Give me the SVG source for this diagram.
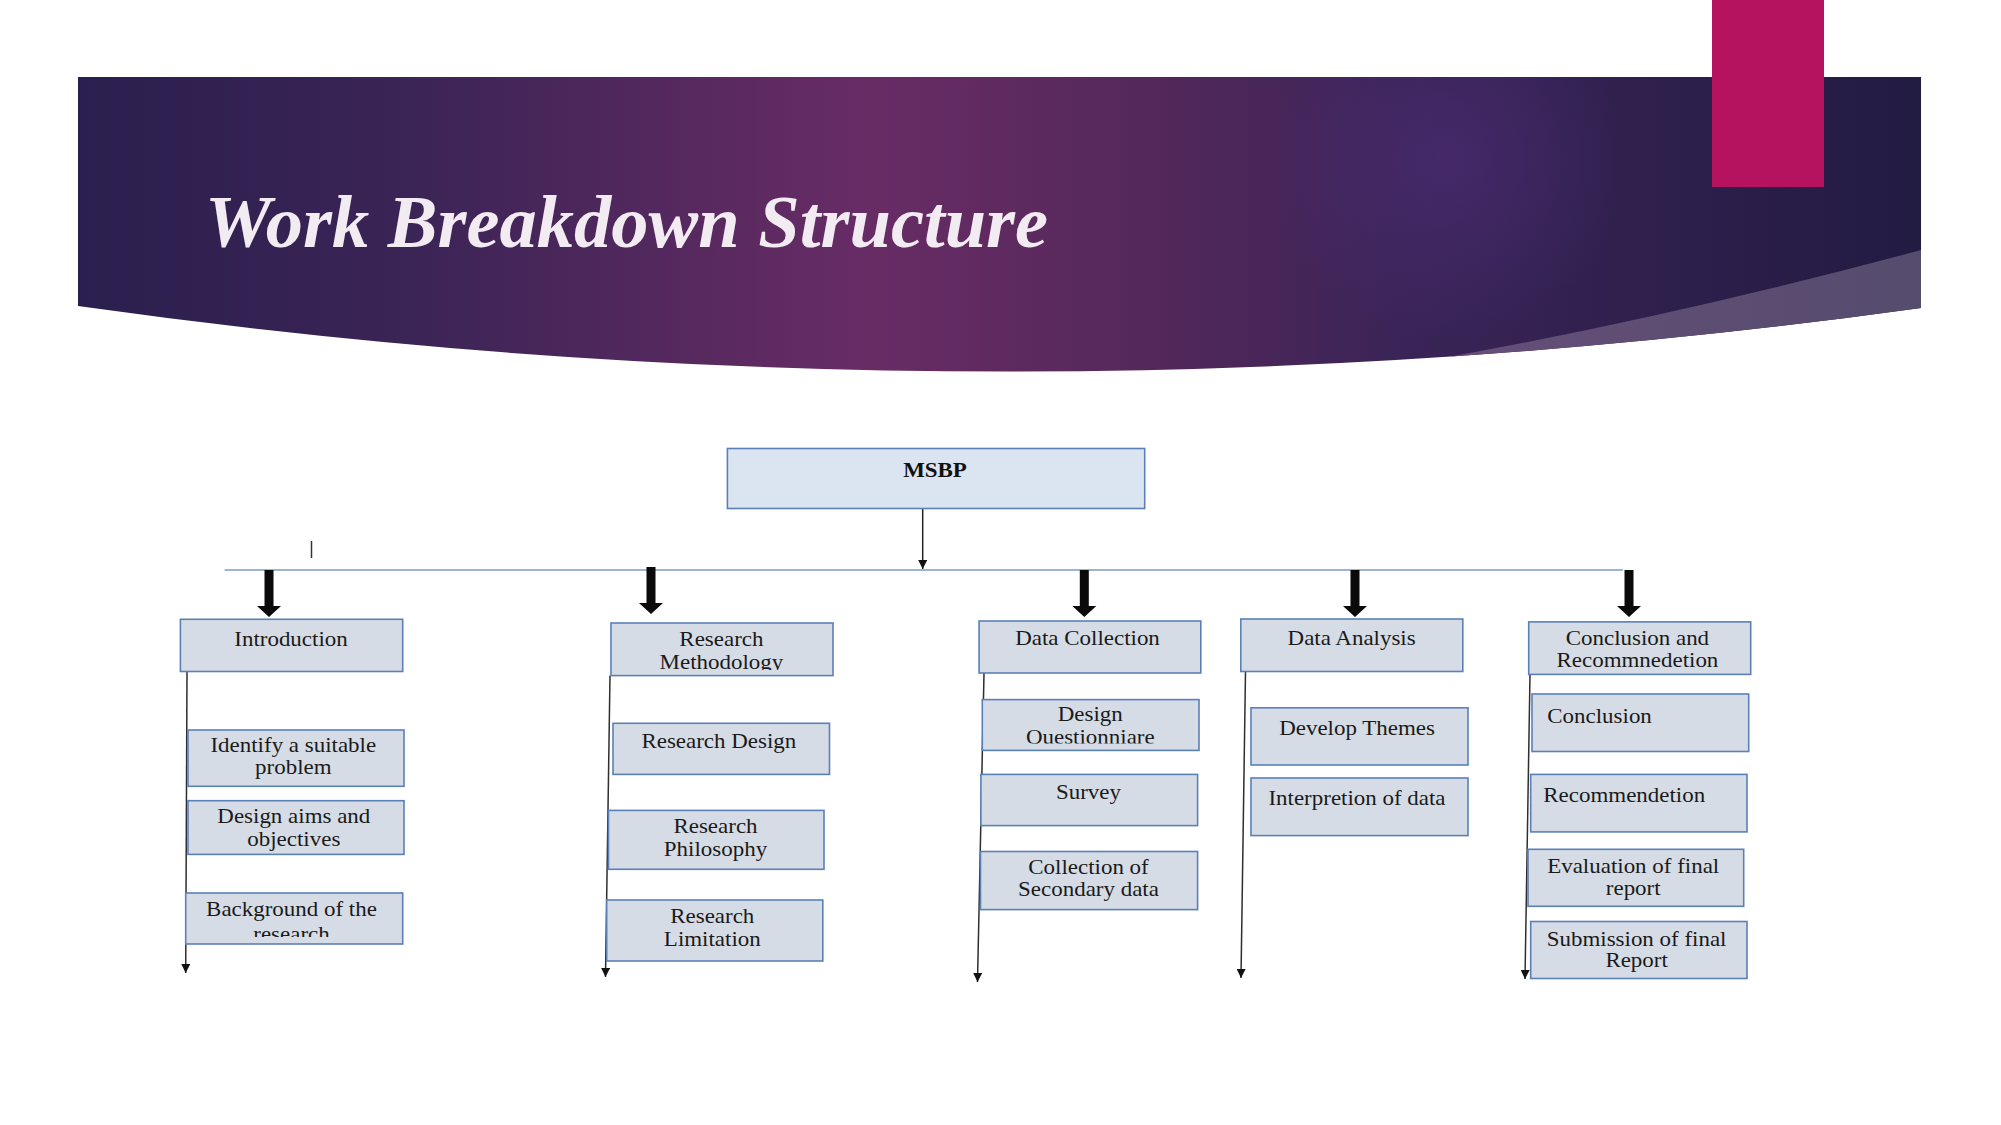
<svg xmlns="http://www.w3.org/2000/svg" width="2001" height="1125" viewBox="0 0 2001 1125">
<style>
.box{fill:#d6dce5;stroke:#5a80b8;stroke-width:1.6}
.top{fill:#dbe5f1;stroke:#5a80b8;stroke-width:1.6}
.t{font-family:"Liberation Serif","Times New Roman",serif;font-size:20.5px;fill:#1a1a1a;text-anchor:middle}
.ts{font-family:"Liberation Serif","Times New Roman",serif;font-size:20.5px;fill:#1a1a1a;text-anchor:start}
.tb{font-family:"Liberation Serif","Times New Roman",serif;font-size:20.5px;font-weight:bold;fill:#111;text-anchor:middle}
.vl{stroke:#2e2e2e;stroke-width:1.5;fill:none;marker-end:url(#ahd)}
.hl{stroke:#7b9dc8;stroke-width:1.6;fill:none}
.big{fill:#0a0a0a}
</style>
<defs>
<linearGradient id="bg" x1="78" y1="0" x2="1921" y2="0" gradientUnits="userSpaceOnUse">
<stop offset="0" stop-color="#2a1f4e"/>
<stop offset="0.18" stop-color="#3b2456"/>
<stop offset="0.43" stop-color="#682c65"/>
<stop offset="0.58" stop-color="#54285b"/>
<stop offset="0.72" stop-color="#3a2457"/>
<stop offset="1" stop-color="#221b42"/>
</linearGradient>
<radialGradient id="glow" cx="1446" cy="160" r="180" gradientUnits="userSpaceOnUse">
<stop offset="0" stop-color="#4a2b72" stop-opacity="0.7"/>
<stop offset="1" stop-color="#4a2b72" stop-opacity="0"/>
</radialGradient>
<linearGradient id="wedge" x1="1450" y1="0" x2="1921" y2="0" gradientUnits="userSpaceOnUse">
<stop offset="0" stop-color="#664e78"/>
<stop offset="1" stop-color="#554c6e"/>
</linearGradient>
<marker id="ahd" markerWidth="10" markerHeight="9" refX="9" refY="4.5" orient="auto" markerUnits="userSpaceOnUse" viewBox="0 0 10 9">
<path d="M0,0 L9,4.5 L0,9 Z" fill="#111"/>
</marker>
<clipPath id="cRM"><rect x="611" y="623" width="222" height="47"/></clipPath>
<clipPath id="cBG"><rect x="186" y="893" width="217" height="44"/></clipPath>
<clipPath id="cDQ"><rect x="982" y="700" width="217" height="43.5"/></clipPath>
</defs>

<rect x="0" y="0" width="2001" height="1125" fill="#ffffff"/>

<g id="banner">
<path d="M78,77 H1921 V308 Q999,436 78,306 Z" fill="url(#bg)"/>
<path d="M78,77 H1921 V308 Q999,436 78,306 Z" fill="url(#glow)"/>
<path d="M1450.9,356.5 Q1680,315 1921,250 V308 Q1685.8,340.7 1450.9,356.5 Z" fill="url(#wedge)"/>
<rect x="1712" y="0" width="112" height="187" fill="#b5135f"/>
<text x="205" y="247" font-family="'Liberation Serif','Times New Roman',serif" font-size="74.5" font-weight="bold" font-style="italic" fill="#f2ecf2">Work Breakdown Structure</text>
</g>

<g id="connectors">
<line x1="224.6" y1="570" x2="1623" y2="570" class="hl"/>
<line x1="922.7" y1="508.5" x2="922.7" y2="569" stroke="#222" stroke-width="1.5" marker-end="url(#ahd)"/>
<line x1="311.5" y1="541" x2="311.5" y2="558" stroke="#333" stroke-width="1.5"/>
<polygon class="big" points="264.5,570 273.5,570 273.5,606 281,606 269,617 257,606 264.5,606"/>
<polygon class="big" points="646.5,567 655.5,567 655.5,603 663,603 651,614 639,603 646.5,603"/>
<polygon class="big" points="1079.8,570 1088.8,570 1088.8,606 1096.3,606 1084.3,617 1072.3,606 1079.8,606"/>
<polygon class="big" points="1350.5,570 1359.5,570 1359.5,606 1367,606 1355,617 1343,606 1350.5,606"/>
<polygon class="big" points="1624.5,570 1633.5,570 1633.5,606 1641,606 1629,617 1617,606 1624.5,606"/>
<line class="vl" x1="187" y1="672" x2="185.7" y2="973"/>
<line class="vl" x1="610" y1="675.5" x2="605.5" y2="977"/>
<line class="vl" x1="984" y1="673" x2="977.5" y2="982"/>
<line class="vl" x1="1245.5" y1="671.5" x2="1241" y2="978"/>
<line class="vl" x1="1530" y1="674.5" x2="1525" y2="979"/>
</g>

<g id="msbp">
<rect class="top" x="727.4" y="448.5" width="417.3" height="60"/>
<text class="tb" transform="translate(935,477) scale(1.12,1)">MSBP</text>
</g>

<g id="introduction">
<rect class="box" x="180.4" y="619.3" width="222.3" height="52.2"/>
<text class="t" transform="translate(291,645.5) scale(1.12,1)">Introduction</text>
</g>
<g id="identify-problem">
<rect class="box" x="188" y="730" width="216" height="56.3"/>
<text class="t" transform="translate(293.3,752) scale(1.12,1)">Identify a suitable</text>
<text class="t" transform="translate(293.3,774.4) scale(1.12,1)">problem</text>
</g>
<g id="design-aims">
<rect class="box" x="188" y="800.7" width="216" height="53.7"/>
<text class="t" transform="translate(293.8,823) scale(1.12,1)">Design aims and</text>
<text class="t" transform="translate(293.8,845.6) scale(1.12,1)">objectives</text>
</g>
<g id="background">
<rect class="box" x="185.7" y="893" width="217" height="51"/>
<g clip-path="url(#cBG)">
<text class="t" transform="translate(291.5,916) scale(1.12,1)">Background of the</text>
<text class="t" transform="translate(291.5,941) scale(1.12,1)">research</text>
</g>
</g>

<g id="research-methodology">
<rect class="box" x="611" y="623" width="222" height="52.6"/>
<g clip-path="url(#cRM)">
<text class="t" transform="translate(721.4,646) scale(1.12,1)">Research</text>
<text class="t" transform="translate(721.4,668.5) scale(1.12,1)">Methodology</text>
</g>
</g>
<g id="research-design">
<rect class="box" x="613" y="723.3" width="216.5" height="51.1"/>
<text class="t" transform="translate(718.8,748) scale(1.12,1)">Research Design</text>
</g>
<g id="research-philosophy">
<rect class="box" x="608.5" y="810.4" width="215.5" height="58.9"/>
<text class="t" transform="translate(715.5,833) scale(1.12,1)">Research</text>
<text class="t" transform="translate(715.5,856) scale(1.12,1)">Philosophy</text>
</g>
<g id="research-limitation">
<rect class="box" x="606.7" y="900" width="216.1" height="61"/>
<text class="t" transform="translate(712.3,923.3) scale(1.12,1)">Research</text>
<text class="t" transform="translate(712.3,945.6) scale(1.12,1)">Limitation</text>
</g>

<g id="data-collection">
<rect class="box" x="979.1" y="621" width="221.7" height="52"/>
<text class="t" transform="translate(1087.5,645) scale(1.12,1)">Data Collection</text>
</g>
<g id="design-questionnaire">
<rect class="box" x="982.3" y="699.6" width="216.7" height="50.8"/>
<g clip-path="url(#cDQ)">
<text class="t" transform="translate(1090.3,721) scale(1.12,1)">Design</text>
<text class="t" transform="translate(1090.3,743.5) scale(1.12,1)">Questionniare</text>
</g>
</g>
<g id="survey">
<rect class="box" x="980.9" y="774.4" width="216.7" height="51.2"/>
<text class="t" transform="translate(1088.5,798.5) scale(1.12,1)">Survey</text>
</g>
<g id="secondary-data">
<rect class="box" x="980.5" y="851.5" width="217.1" height="58.1"/>
<text class="t" transform="translate(1088.5,873.7) scale(1.12,1)">Collection of</text>
<text class="t" transform="translate(1088.5,896) scale(1.12,1)">Secondary data</text>
</g>

<g id="data-analysis">
<rect class="box" x="1240.8" y="619" width="222" height="52.5"/>
<text class="t" transform="translate(1351.6,645) scale(1.12,1)">Data Analysis</text>
</g>
<g id="develop-themes">
<rect class="box" x="1251" y="707.8" width="217" height="57.2"/>
<text class="t" transform="translate(1357,735) scale(1.12,1)">Develop Themes</text>
</g>
<g id="interpretation">
<rect class="box" x="1251" y="778" width="217" height="57.6"/>
<text class="t" transform="translate(1357,805) scale(1.12,1)">Interpretion of data</text>
</g>

<g id="conclusion-recommendation">
<rect class="box" x="1528.7" y="621.9" width="222" height="52.5"/>
<text class="t" transform="translate(1637.4,645) scale(1.12,1)">Conclusion and</text>
<text class="t" transform="translate(1637.4,667) scale(1.12,1)">Recommnedetion</text>
</g>
<g id="conclusion">
<rect class="box" x="1532" y="694" width="216.7" height="57.5"/>
<text class="ts" transform="translate(1547.3,722.6) scale(1.12,1)">Conclusion</text>
</g>
<g id="recommendation">
<rect class="box" x="1530.7" y="774.4" width="216.3" height="57.5"/>
<text class="ts" transform="translate(1543.3,802.2) scale(1.12,1)">Recommendetion</text>
</g>
<g id="evaluation">
<rect class="box" x="1528" y="849.3" width="215.7" height="57"/>
<text class="t" transform="translate(1633.2,872.6) scale(1.12,1)">Evaluation of final</text>
<text class="t" transform="translate(1633.2,894.8) scale(1.12,1)">report</text>
</g>
<g id="submission">
<rect class="box" x="1530.7" y="921.5" width="216.3" height="57"/>
<text class="t" transform="translate(1636.6,945.6) scale(1.12,1)">Submission of final</text>
<text class="t" transform="translate(1636.6,967) scale(1.12,1)">Report</text>
</g>
</svg>
